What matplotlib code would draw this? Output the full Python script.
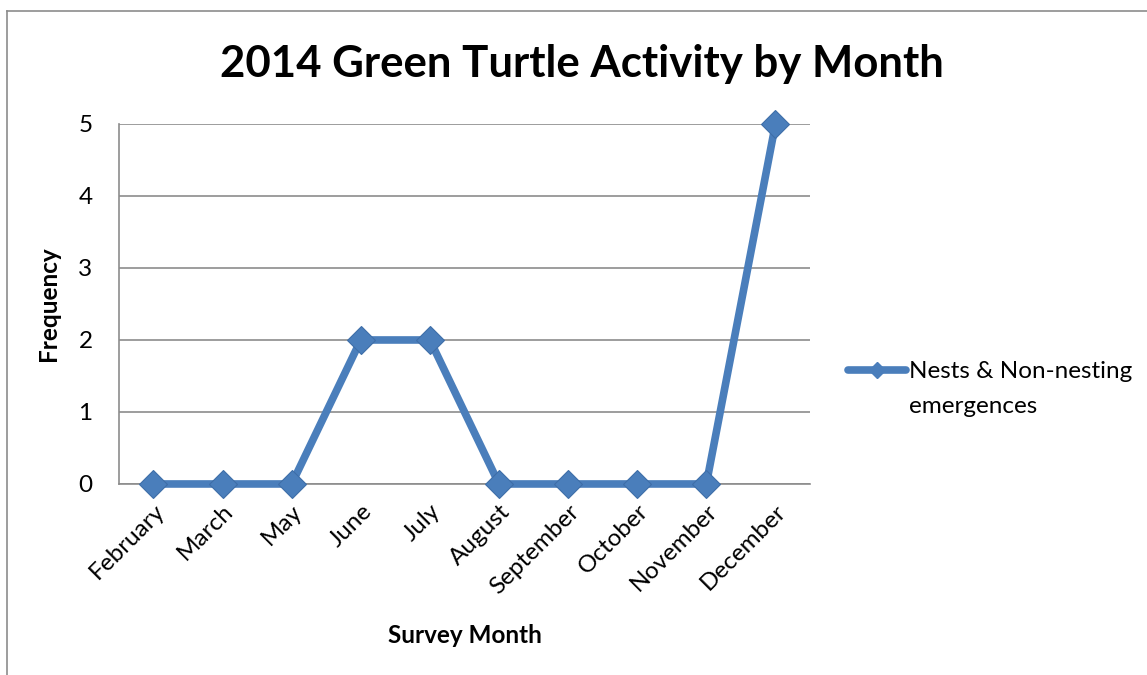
import matplotlib.pyplot as plt
from matplotlib.lines import Line2D

months = ["February", "March", "May", "June", "July", "August",
          "September", "October", "November", "December"]
activity = [0, 0, 0, 2, 2, 0, 0, 0, 0, 5]
y_ticks = [0, 1, 2, 3, 4, 5]
legend_lines = ["Nests & Non-nesting", "emergences"]

plt.rcParams["font.family"] = ["Lato", "DejaVu Sans"]
blue = "#4A7EBB"
grey = "#8c8c8c"
fs = 17.5

fig = plt.figure(figsize=(11.47, 6.75), dpi=100)
ax = fig.add_axes([0.1037, 0.2830, 0.6025, 0.5333])

x = list(range(len(months)))
ax.plot(x, activity, color=blue, linewidth=5.5, marker="D",
        markersize=14, markerfacecolor=blue, markeredgecolor="#3E6EA8",
        markeredgewidth=0.8, solid_capstyle="round", solid_joinstyle="round",
        zorder=3, clip_on=False)

ax.set_xlim(-0.5, len(months) - 0.5)
ax.set_ylim(0, 5)
ax.set_yticks(y_ticks)
ax.set_xticks(x)
ax.set_xticklabels(months, rotation=45, ha="right", rotation_mode="anchor")
ax.tick_params(axis="x", length=0, labelsize=fs, pad=12)
ax.tick_params(axis="y", length=0, labelsize=fs, pad=19)
ax.yaxis.grid(True, color=grey, linewidth=1.2)
ax.set_axisbelow(True)
for side in ["top", "right"]:
    ax.spines[side].set_visible(False)
for side in ["left", "bottom"]:
    ax.spines[side].set_color(grey)
    ax.spines[side].set_linewidth(1.2)

ax.set_xlabel("Survey Month", fontsize=fs, fontweight="bold", labelpad=19)
ax.set_ylabel("Frequency", fontsize=fs, fontweight="bold", labelpad=13)

fig.text(0.507, 0.905, "2014 Green Turtle Activity by Month", ha="center",
         va="center", fontsize=31.5, fontweight="bold")

# legend: handle beside the first line, second line wraps underneath
handle = Line2D([], [], color=blue, linewidth=5.5, marker="D",
                markersize=8, solid_capstyle="round")
fig.legend([handle], [legend_lines[0]], loc="center left",
           bbox_to_anchor=(0.7393, 0.4489), frameon=False, fontsize=fs,
           handlelength=2.4, handletextpad=0.1, borderpad=0,
           borderaxespad=0)
fig.text(0.7925, 0.3985, legend_lines[1], ha="left", va="center",
         fontsize=fs)

# outer chart border (left and top edges only visible)
fig.add_artist(Line2D([0.0065, 0.0065], [0, 0.984], color=grey,
                      linewidth=1.2, transform=fig.transFigure))
fig.add_artist(Line2D([0.0065, 1.0], [0.984, 0.984], color=grey,
                      linewidth=1.2, transform=fig.transFigure))

fig.savefig("out.png", dpi=100)
